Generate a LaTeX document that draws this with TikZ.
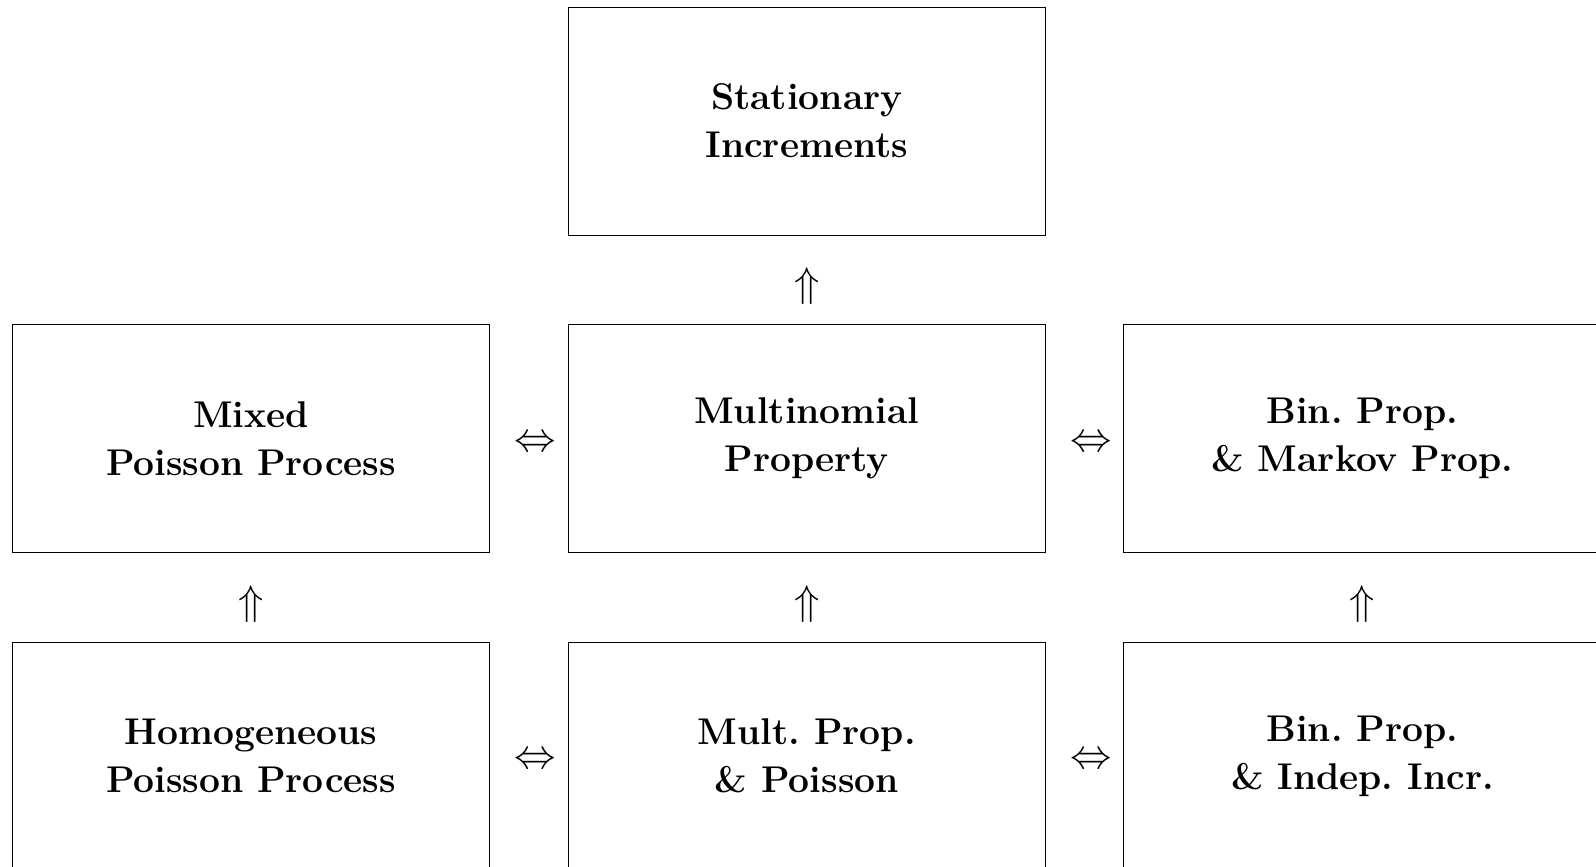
\documentclass[tikz,border=0pt]{standalone}
\usetikzlibrary{calc}
\frenchspacing
\begin{document}
\begin{tikzpicture}[x=1pt,y=1pt,
  propbox/.style={draw=black, line width=0.5pt, minimum width=238.75pt,
    minimum height=114pt, inner sep=0pt, align=center,
    font=\fontsize{18.6}{24}\selectfont\bfseries},
  implies/.style={inner sep=0pt, font=\fontsize{22}{24}\selectfont}]
\useasboundingbox (0,0) rectangle (798,-433.5);
% grid of properties
\node[propbox] (stat)  at (403.4,-60.5)   {Stationary\\Increments};
\node[propbox] (mixed) at (125.45,-219.35) {Mixed\\Poisson Process};
\node[propbox] (multi) at (403.4,-219.35)  {Multinomial\\Property};
\node[propbox] (binmk) at (681.2,-219.35)  {Bin. Prop.\\\& Markov Prop.};
\node[propbox] (homog) at (125.45,-378.15) {Homogeneous\\Poisson Process};
\node[propbox] (multp) at (403.4,-378.15)  {Mult. Prop.\\\& Poisson};
\node[propbox] (binin) at (681.2,-378.15)  {Bin. Prop.\\\& Indep. Incr.};
% implications between neighbouring boxes
\node[implies] (u1) at ($(stat.south)!0.53!(multi.north)+(0,-2)$) {$\Uparrow$};
\node[implies] (u2) at ($(mixed.south)!0.53!(homog.north)+(0,-2)$) {$\Uparrow$};
\node[implies] (u3) at ($(multi.south)!0.53!(multp.north)+(0,-2)$) {$\Uparrow$};
\node[implies] (u4) at ($(binmk.south)!0.53!(binin.north)+(0,-2)$) {$\Uparrow$};
\node[implies] (e1) at ($(mixed.east)!0.56!(multi.west)+(1,-2.5)$) {$\Leftrightarrow$};
\node[implies] (e2) at ($(multi.east)!0.56!(binmk.west)+(1,-2.5)$) {$\Leftrightarrow$};
\node[implies] (e3) at ($(homog.east)!0.56!(multp.west)+(1,-2.5)$) {$\Leftrightarrow$};
\node[implies] (e4) at ($(multp.east)!0.56!(binin.west)+(1,-2.5)$) {$\Leftrightarrow$};
\end{tikzpicture}
\end{document}
